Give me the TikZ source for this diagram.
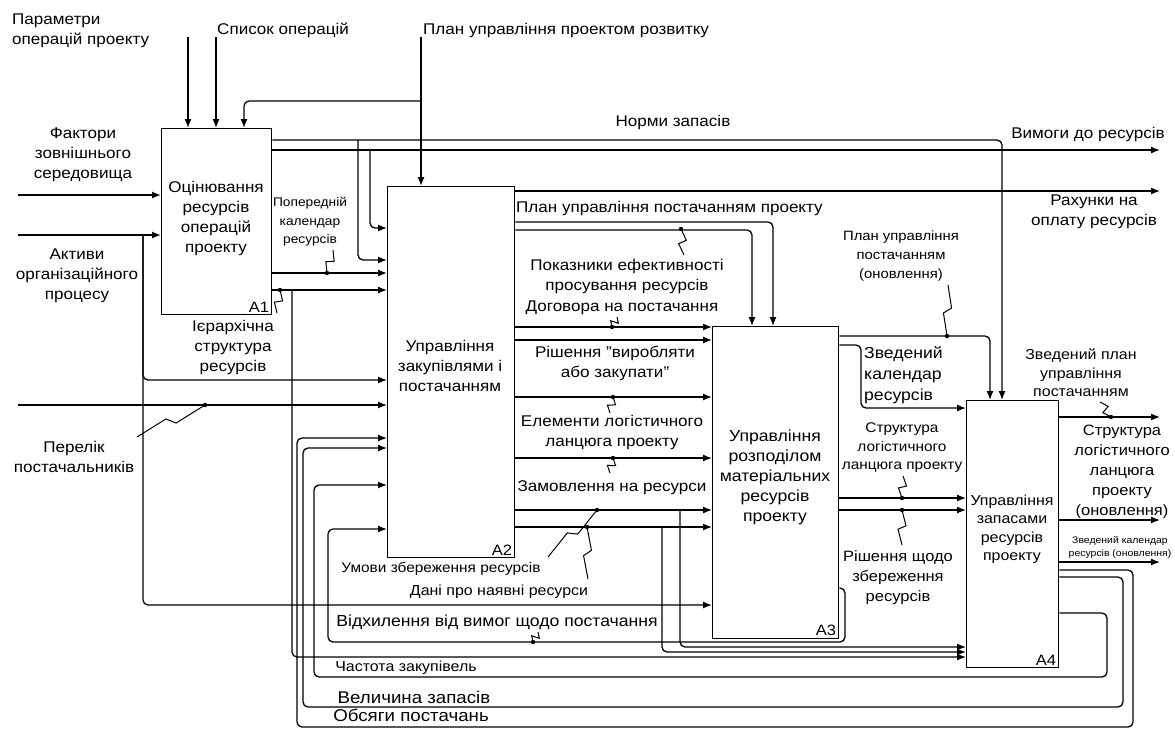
\documentclass[tikz,border=0pt]{standalone}
\usepackage{fontspec}
\setmainfont{Liberation Sans}[FakeStretch=1.1]
\usetikzlibrary{arrows.meta,calc}

\tikzset{
  fbox/.style={draw, line width=1.3pt, anchor=north west, inner sep=0pt},
  lbl/.style={font=\fontsize{15.5}{20}\selectfont, align=center, inner sep=0pt},
  lblsm/.style={font=\fontsize{13}{18.5}\selectfont, align=center, inner sep=0pt},
  lblbig/.style={font=\fontsize{17}{20}\selectfont, inner sep=0pt},
  boxnum/.style={font=\fontsize{15}{18}\selectfont, anchor=south east, inner sep=3pt},
  arr/.style={line width=1.3pt, rounded corners=5pt, -{Latex[length=9pt,width=7pt]}},
  tld/.style={line width=1pt},
}
\newcommand{\squig}[2]{%
  \fill (#1) circle (2.2pt);
  \draw[tld] (#1) -- ($(#1)!0.45!(#2)!4pt!90:(#2)$) -- ($(#1)!0.55!(#2)!4pt!-90:(#2)$) -- (#2);}

\begin{document}
\begin{tikzpicture}[x=1pt,y=-1pt]
\fill[white] (0,0) rectangle (1175,729);
\useasboundingbox (0,0) rectangle (1175,729);

% function boxes
\node[fbox, minimum width=110pt, minimum height=186pt] (A1) at (161,128) {};
\node[fbox, minimum width=127pt, minimum height=371pt] (A2) at (387,186) {};
\node[fbox, minimum width=126pt, minimum height=312pt] (A3) at (712,326) {};
\node[fbox, minimum width=92pt, minimum height=267pt] (A4) at (966,400) {};
\node[lbl] (A1t) at (216,218) {Оцінювання\\ресурсів\\операцій\\проекту};
\node[lbl] (A2t) at (450,366) {Управління\\закупівлями і\\постачанням};
\node[lbl, font=\fontsize{16}{20}\selectfont] (A3t) at (775,477) {Управління\\розподілом\\матеріальних\\ресурсів\\проекту};
\node[lbl, font=\fontsize{14.5}{18.5}\selectfont] (A4t) at (1012,529) {Управління\\запасами\\ресурсів\\проекту};
\node[boxnum] (A1n) at (A1.south east) {A1};
\node[boxnum] (A2n) at (A2.south east) {A2};
\node[boxnum] (A3n) at (A3.south east) {A3};
\node[boxnum] (A4n) at (A4.south east) {A4};

% free ends
\coordinate (c1) at (188,37);
\coordinate (c2) at (216,37);
\coordinate (c3) at (421,37);
\coordinate (i1) at (18,195);
\coordinate (i2) at (18,235);
\coordinate (i3) at (18,405);
\coordinate (o1) at (1160,150);
\coordinate (o2) at (1160,191);
\coordinate (o3) at (1160,417);
\coordinate (o4) at (1160,520);
\coordinate (o5) at (1160,562);

% controls and inputs
\draw[arr] (c1) -- (c1 |- A1.north);
\draw[arr] (c2) -- (c2 |- A1.north);
\draw[arr] (c3) -- (c3 |- A2.north);
\draw[arr] (c3 |- 0,101) -| (A1.north -| 244,0);
\draw[arr] (i1) -- (i1 -| A1.west);
\draw[arr] (i2) -- (i2 -| A1.west);
\draw[arr] (143,235) |- (A2.west |- 0,380);
\draw[arr] (143,235) |- (A3.west |- 0,605);
\draw[arr] (i3) -- (i3 -| A2.west);

% A1 outputs
\draw[arr] (A1.east |- 0,140) -| (A4.north -| 1002,0);
\draw[arr] (A1.east |- 0,150) -- (o1);
\draw[arr] (358,140) |- (A2.west |- 0,260);
\draw[arr] (370,150) |- (A2.west |- 0,228);
\draw[arr] (A1.east |- 0,273) -- (A2.west |- 0,273);
\draw[arr] (A1.east |- 0,290) -- (A2.west |- 0,290);
\draw[arr] (292,290) |- (A4.west |- 0,657);

% A2 outputs
\draw[arr] (A2.east |- 0,191) -- (o2);
\draw[arr] (A2.east |- 0,222) -| (A3.north -| 773,0);
\draw[arr] (A2.east |- 0,230) -| (A3.north -| 752,0);
\foreach \y in {327,340,397,458,510,527}
  \draw[arr] (A2.east |- 0,\y) -- (A3.west |- 0,\y);
\draw[arr] (680,510) |- (A4.west |- 0,647);
\draw[arr] (662,527) |- (A4.west |- 0,652);

% A3 outputs
\draw[arr] (A3.east |- 0,336) -| (A4.north -| 990,0);
\draw[arr] (A3.east |- 0,345) -| (861,408) -- (A4.west |- 0,408);
\draw[arr] (A3.east |- 0,498) -- (A4.west |- 0,498);
\draw[arr] (A3.east |- 0,510) -- (A4.west |- 0,510);
\draw[arr] (A3.east |- 0,588) -| (845,642) -| (328,529) -- (A2.west |- 0,529);

% A4 outputs and feedback
\draw[arr] (A4.east |- 0,417) -- (o3);
\draw[arr] (A4.east |- 0,520) -- (o4);
\draw[arr] (A4.east |- 0,562) -- (o5);
\draw[arr] (A4.east |- 0,570) -| (1133,727) -| (297,438) -- (A2.west |- 0,438);
\draw[arr] (A4.east |- 0,577) -| (1123,707) -| (303,448) -- (A2.west |- 0,448);
\draw[arr] (A4.east |- 0,613) -| (1107,677) -| (314,485) -- (A2.west |- 0,485);

% labels
\node[lbl, anchor=west, align=left] (l1) at (12,31) {Параметри\\операцій проекту};
\node[lbl, anchor=west] (l2) at (217,30) {Список операцій};
\node[lbl, anchor=west] (l3) at (423,30) {План управління проектом розвитку};
\node[lbl] (l4) at (83,155) {Фактори\\зовнішнього\\середовища};
\node[lbl] (l5) at (77,276) {Активи\\організаційного\\процесу};
\node[lbl] (l6) at (74,457) {Перелік\\постачальників};
\node[lbl] (l7) at (673,122) {Норми запасів};
\node[lbl] (l8) at (1088,134) {Вимоги до ресурсів};
\node[lbl] (l9) at (1094,212) {Рахунки на\\оплату ресурсів};
\node[lblsm, font=\fontsize{12.5}{18.5}\selectfont] (l10) at (310,222) {Попередній\\календар\\ресурсів};
\node[lbl] (l11) at (233,347) {Ієрархічна\\структура\\ресурсів};
\node[lbl, anchor=west] (l12) at (516,208) {План управління постачанням проекту};
\node[lbl] (l13) at (627,276) {Показники ефективності\\просування ресурсів};
\node[lbl] (l14) at (622,308) {Договора на постачання};
\node[lbl] (l15) at (615,363) {Рішення "виробляти\\або закупати"};
\node[lbl] (l16) at (612,432) {Елементи логістичного\\ланцюга проекту};
\node[lbl] (l17) at (612,488) {Замовлення на ресурси};
\node[lblsm, font=\fontsize{14}{18}\selectfont] (l18) at (441,569) {Умови збереження ресурсів};
\node[lblsm, font=\fontsize{14.5}{18}\selectfont] (l19) at (499,592) {Дані про наявні ресурси};
\node[lbl, font=\fontsize{16}{20}\selectfont] (l20) at (497,622) {Відхилення від вимог щодо постачання};
\node[lblsm, font=\fontsize{14.5}{18}\selectfont] (l21) at (406,668) {Частота закупівель};
\node[lblbig] (l22) at (414,697) {Величина запасів};
\node[lblbig] (l23) at (411,715) {Обсяги постачань};
\node[lblsm, font=\fontsize{13.5}{19}\selectfont] (l24) at (901,256) {План управління\\постачанням\\(оновлення)};
\node[lbl, anchor=west, align=left, font=\fontsize{16}{21}\selectfont] (l25) at (864,375) {Зведений\\календар\\ресурсів};
\node[lblsm, font=\fontsize{14}{18.5}\selectfont] (l26) at (902,448) {Структура\\логістичного\\ланцюга проекту};
\node[lbl, font=\fontsize{15}{20}\selectfont] (l27) at (898,578) {Рішення щодо\\збереження\\ресурсів};
\node[lblsm, font=\fontsize{14.5}{18.5}\selectfont] (l28) at (1081,373) {Зведений план\\управління\\постачанням};
\node[lbl, font=\fontsize{15}{20}\selectfont] (l29) at (1122,472) {Структура\\логістичного\\ланцюга\\проекту\\(оновлення)};
\node[lblsm, font=\fontsize{9.5}{13}\selectfont] (l30) at (1120,547) {Зведений календар\\ресурсів (оновлення)};

% squiggles
\squig{205,405}{137,437}
\squig{327,273}{333,250}
\squig{280,290}{277,313}
\squig{681,229}{684,255}
\squig{612,327}{617,317}
\squig{613,397}{610,413}
\squig{613,458}{610,473}
\squig{597,510}{548,557}
\squig{587,527}{588,579}
\squig{533,642}{538,632}
\squig{947,336}{948,285}
\squig{902,498}{903,476}
\squig{902,510}{902,545}
\squig{1111,417}{1100,402}
\end{tikzpicture}
\end{document}
